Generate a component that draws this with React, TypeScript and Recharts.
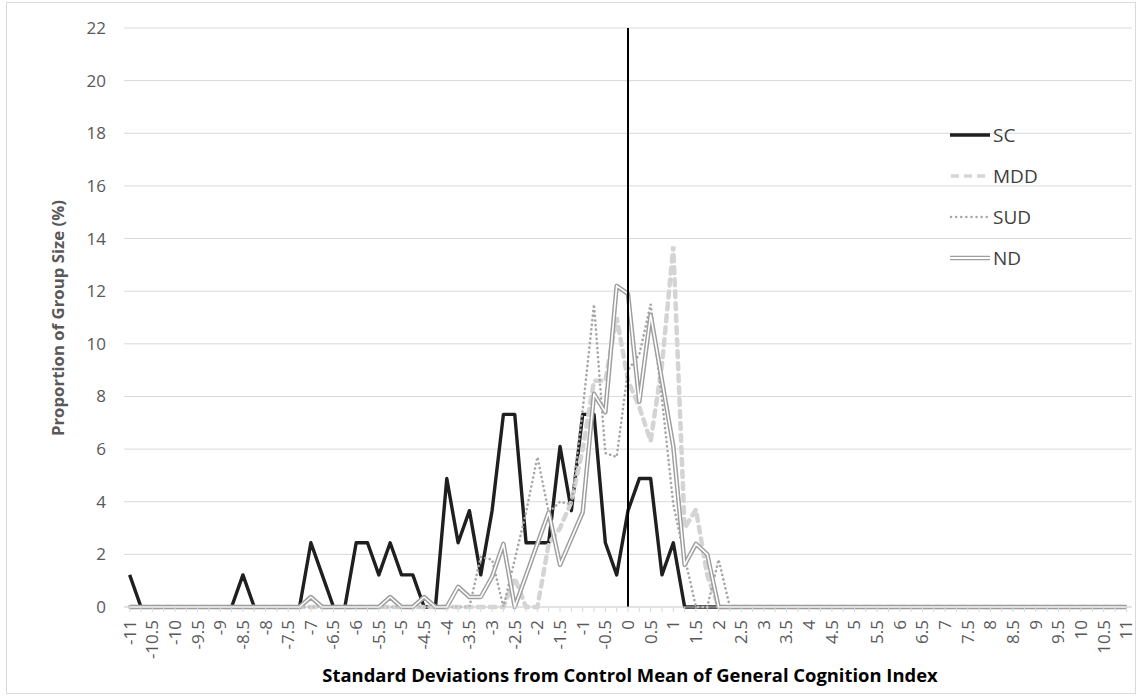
import { LineChart, Line, XAxis, YAxis, CartesianGrid, ReferenceLine } from 'recharts'

// category axis: SD from control mean, quarter steps
const sdSteps = [
  -11, -10.75, -10.5, -10.25, -10, -9.75, -9.5, -9.25, -9, -8.75,
  -8.5, -8.25, -8, -7.75, -7.5, -7.25, -7, -6.75, -6.5, -6.25,
  -6, -5.75, -5.5, -5.25, -5, -4.75, -4.5, -4.25, -4, -3.75,
  -3.5, -3.25, -3, -2.75, -2.5, -2.25, -2, -1.75, -1.5, -1.25,
  -1, -0.75, -0.5, -0.25, 0, 0.25, 0.5, 0.75, 1, 1.25,
  1.5, 1.75, 2, 2.25, 2.5, 2.75, 3, 3.25, 3.5, 3.75,
  4, 4.25, 4.5, 4.75, 5, 5.25, 5.5, 5.75, 6, 6.25,
  6.5, 6.75, 7, 7.25, 7.5, 7.75, 8, 8.25, 8.5, 8.75,
  9, 9.25, 9.5, 9.75, 10, 10.25, 10.5, 10.75, 11,
]

const scValues = [
  1.22, 0, 0, 0, 0, 0, 0, 0, 0, 0,
  1.22, 0, 0, 0, 0, 0, 2.44, 1.22, 0, 0,
  2.44, 2.44, 1.22, 2.44, 1.22, 1.22, 0, 0, 4.88, 2.44,
  3.66, 1.22, 3.66, 7.32, 7.32, 2.44, 2.44, 2.44, 6.1, 3.66,
  7.32, 7.32, 2.44, 1.22, 3.66, 4.88, 4.88, 1.22, 2.44, 0,
  0, 0, 0, 0, 0, 0, 0, 0, 0, 0,
  0, 0, 0, 0, 0, 0, 0, 0, 0, 0,
  0, 0, 0, 0, 0, 0, 0, 0, 0, 0,
  0, 0, 0, 0, 0, 0, 0, 0, 0,
]

const mddValues = [
  0, 0, 0, 0, 0, 0, 0, 0, 0, 0,
  0, 0, 0, 0, 0, 0, 0, 0, 0, 0,
  0, 0, 0, 0, 0, 0, 0, 0, 0, 0,
  0, 0, 0, 0, 1.1, 0, 0, 2.4, 3.0, 4.0,
  6.0, 8.6, 8.6, 11.0, 8.6, 7.6, 6.3, 9.2, 13.7, 3.0,
  3.7, 1.2, 0, 0, 0, 0, 0, 0, 0, 0,
  0, 0, 0, 0, 0, 0, 0, 0, 0, 0,
  0, 0, 0, 0, 0, 0, 0, 0, 0, 0,
  0, 0, 0, 0, 0, 0, 0, 0, 0,
]

const sudValues = [
  0, 0, 0, 0, 0, 0, 0, 0, 0, 0,
  0, 0, 0, 0, 0, 0, 0, 0, 0, 0,
  0, 0, 0, 0, 0, 0, 0, 0, 0, 0,
  0, 1.9, 1.8, 0, 1.8, 3.6, 5.7, 3.6, 4.0, 3.9,
  7.5, 11.5, 5.85, 5.7, 9.0, 9.6, 11.5, 7.9, 3.9, 1.9,
  0, 0, 1.8, 0, 0, 0, 0, 0, 0, 0,
  0, 0, 0, 0, 0, 0, 0, 0, 0, 0,
  0, 0, 0, 0, 0, 0, 0, 0, 0, 0,
  0, 0, 0, 0, 0, 0, 0, 0, 0,
]

const ndValues = [
  0, 0, 0, 0, 0, 0, 0, 0, 0, 0,
  0, 0, 0, 0, 0, 0, 0.38, 0, 0, 0,
  0, 0, 0, 0.38, 0, 0, 0.38, 0, 0, 0.77,
  0.38, 0.38, 1.15, 2.4, 0, 1.2, 2.4, 3.6, 1.6, 2.6,
  3.6, 8.1, 7.4, 12.2, 11.9, 7.8, 11.1, 8.6, 6.1, 1.6,
  2.4, 2.0, 0, 0, 0, 0, 0, 0, 0, 0,
  0, 0, 0, 0, 0, 0, 0, 0, 0, 0,
  0, 0, 0, 0, 0, 0, 0, 0, 0, 0,
  0, 0, 0, 0, 0, 0, 0, 0, 0,
]

const yTicks = [0, 2, 4, 6, 8, 10, 12, 14, 16, 18, 20, 22]

const data = sdSteps.map((sd, i) => ({
  sd,
  sc: scValues[i],
  mdd: mddValues[i],
  sud: sudValues[i],
  nd: ndValues[i],
}))

const font = "'Open Sans', sans-serif"
const grey = '#595959'

function SdTick(props: any) {
  const { x, y, payload } = props
  const v = payload.value
  // only every second category carries a label
  if (Math.abs(v * 2 - Math.round(v * 2)) > 1e-6) return <g />
  const py = y + 6
  return (
    <text
      x={x}
      y={py}
      transform={`rotate(-90, ${x}, ${py})`}
      textAnchor="end"
      dy="0.35em"
      fill={grey}
      fontSize={17}
      fontFamily={font}
    >
      {String(v)}
    </text>
  )
}

const legendRows = [
  { name: 'SC', y: 135 },
  { name: 'MDD', y: 176 },
  { name: 'SUD', y: 217 },
  { name: 'ND', y: 258 },
]

function LegendSample({ name }: { name: string }) {
  return (
    <svg width={42} height={12} style={{ display: 'block' }}>
      {name === 'SC' && <line x1={1} y1={6} x2={41} y2={6} stroke="#1f1f1f" strokeWidth={3.4} />}
      {name === 'MDD' && (
        <line x1={2} y1={6} x2={40} y2={6} stroke="#d6d6d6" strokeWidth={3.5} strokeDasharray="8 5" />
      )}
      {name === 'SUD' && (
        <line x1={2} y1={6} x2={40} y2={6} stroke="#a6a6a6" strokeWidth={2.4} strokeDasharray="0.1 5" strokeLinecap="round" />
      )}
      {name === 'ND' && (
        <>
          <line x1={1} y1={6} x2={41} y2={6} stroke="#9e9e9e" strokeWidth={4.5} />
          <line x1={1} y1={6} x2={41} y2={6} stroke="#ffffff" strokeWidth={1.8} />
        </>
      )}
    </svg>
  )
}

export default function App() {
  return (
    <div style={{ position: 'absolute', left: 0, top: 0, width: 1141, height: 698, background: '#fff', fontFamily: font }}>
      <div
        style={{
          position: 'absolute',
          left: 6,
          top: 2,
          width: 1128,
          height: 690,
          border: '1px solid #d9d9d9',
        }}
      />
      <LineChart
        width={1141}
        height={698}
        data={data}
        margin={{ top: 28, right: 9, left: 64, bottom: 31 }}
      >
        <CartesianGrid vertical={false} stroke="#d9d9d9" />
        <XAxis
          dataKey="sd"
          type="number"
          domain={[-11.125, 11.125]}
          ticks={sdSteps}
          interval={0}
          height={60}
          axisLine={{ stroke: '#d9d9d9' }}
          tickLine={{ stroke: '#d9d9d9' }}
          tickSize={5}
          tick={<SdTick />}
        />
        <YAxis
          domain={[0, 22]}
          ticks={yTicks}
          width={60}
          axisLine={false}
          tickLine={false}
          tickSize={0}
          tickMargin={18}
          tick={{ fill: grey, fontSize: 17, fontFamily: font }}
        />
        <Line
          type="linear"
          dataKey="sc"
          stroke="#1f1f1f"
          strokeWidth={3.4}
          dot={false}
          strokeLinejoin="round"
          isAnimationActive={false}
        />
        <Line
          type="linear"
          dataKey="mdd"
          stroke="#d4d4d4"
          strokeWidth={4.5}
          strokeDasharray="6 6"
          strokeLinecap="round"
          dot={false}
          isAnimationActive={false}
        />
        <Line
          type="linear"
          dataKey="sud"
          stroke="#a6a6a6"
          strokeWidth={2.6}
          strokeDasharray="0.1 4.5"
          strokeLinecap="round"
          dot={false}
          isAnimationActive={false}
        />
        <Line
          type="linear"
          dataKey="nd"
          stroke="#9e9e9e"
          strokeWidth={4.5}
          strokeLinejoin="round"
          dot={false}
          isAnimationActive={false}
        />
        <Line
          type="linear"
          dataKey="nd"
          stroke="#ffffff"
          strokeWidth={1.6}
          strokeLinejoin="round"
          dot={false}
          isAnimationActive={false}
        />
        <ReferenceLine x={0} stroke="#000000" strokeWidth={2} />
      </LineChart>

      <div
        style={{
          position: 'absolute',
          left: 57,
          top: 318,
          transform: 'translate(-50%, -50%) rotate(-90deg)',
          whiteSpace: 'nowrap',
          fontWeight: 700,
          fontSize: 16.8,
          color: grey,
        }}
      >
        Proportion of Group Size (%)
      </div>
      <div
        style={{
          position: 'absolute',
          left: 630,
          top: 674,
          transform: 'translate(-50%, -50%)',
          whiteSpace: 'nowrap',
          fontWeight: 700,
          fontSize: 18.4,
          color: '#000',
        }}
      >
        Standard Deviations from Control Mean of General Cognition Index
      </div>

      {legendRows.map((r) => (
        <div
          key={r.name}
          style={{
            position: 'absolute',
            left: 949,
            top: r.y - 14,
            height: 28,
            display: 'flex',
            alignItems: 'center',
            gap: 2,
            fontSize: 19,
            color: '#404040',
          }}
        >
          <LegendSample name={r.name} />
          <span>{r.name}</span>
        </div>
      ))}
    </div>
  )
}
